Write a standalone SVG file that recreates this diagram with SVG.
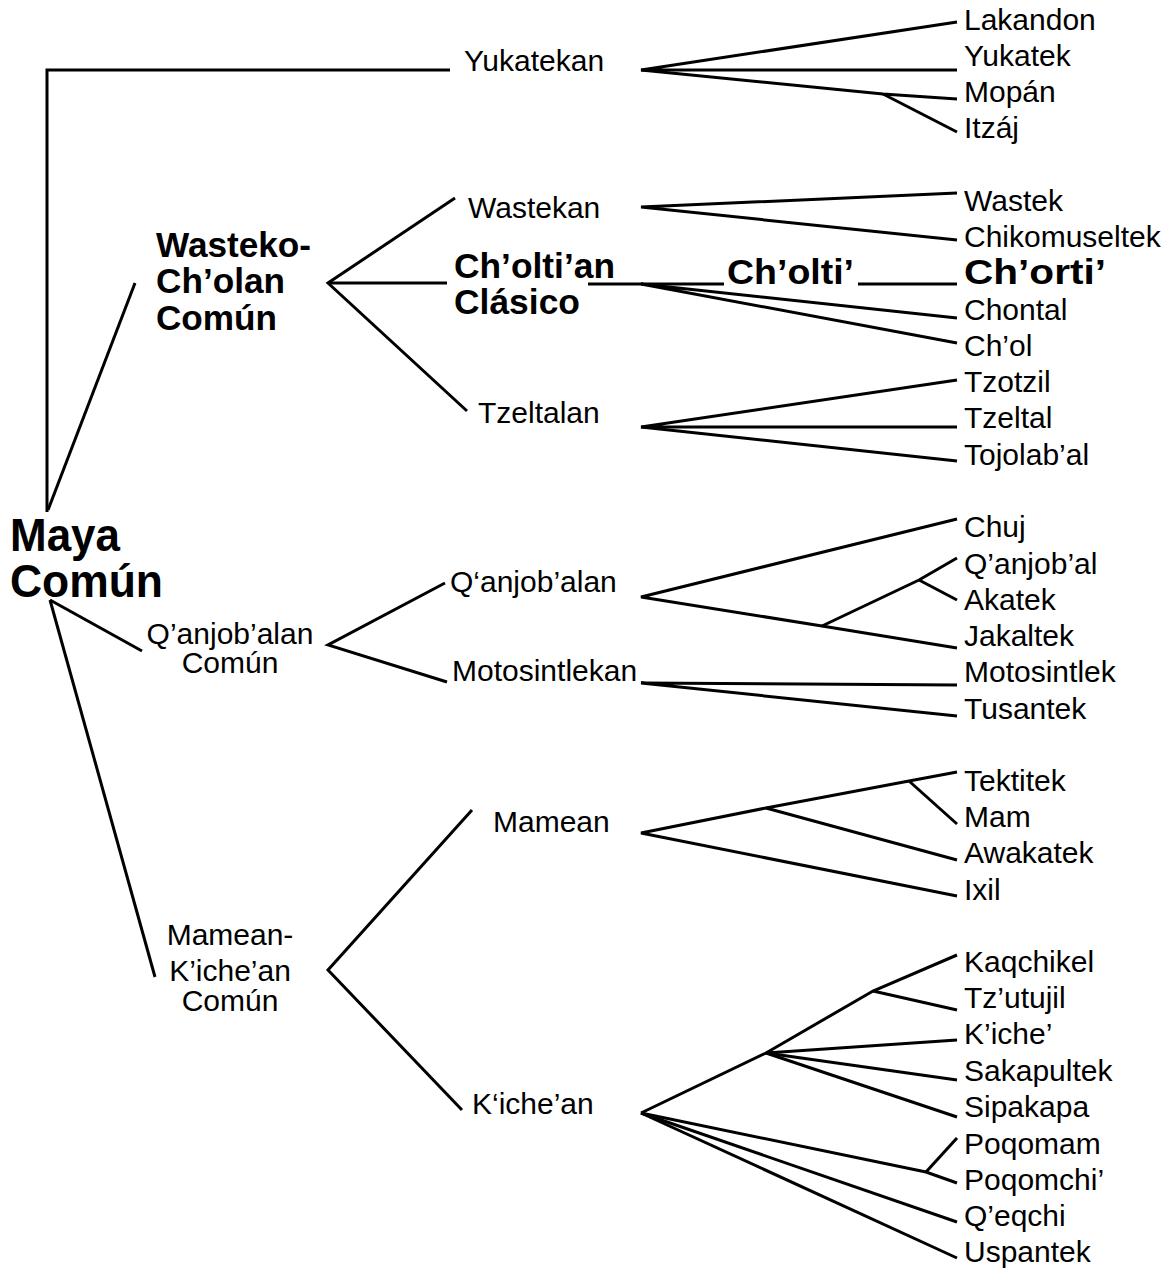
<svg xmlns="http://www.w3.org/2000/svg" width="1173" height="1270" viewBox="0 0 1173 1270">
<style>
text{font-family:"Liberation Sans",Arial,sans-serif;fill:#000}
.r{font-size:30px}
.b{font-size:35px;font-weight:bold}
.m{text-anchor:middle}
.big{font-size:46px;font-weight:bold}
#connectors path,#connectors line{stroke:#000;stroke-width:3;fill:none;stroke-linejoin:miter}
</style>
<rect width="1173" height="1270" fill="#fff"/>
<g id="connectors">
<path d="M450,70 H47 V512"/>
<line x1="48" y1="510" x2="135" y2="283"/>
<line x1="50" y1="600" x2="142" y2="651"/>
<line x1="50" y1="600" x2="155" y2="977"/>
<path d="M455,198 L328,283 L467,411"/>
<line x1="328" y1="283" x2="447" y2="283"/>
<path d="M445,583 L328,645 L447,682"/>
<path d="M472,810 L328,970 L462,1110"/>
<path d="M957,22 L641,70 L957,70"/>
<path d="M641,70 L883,94 L957,99"/>
<line x1="883" y1="94" x2="957" y2="132"/>
<path d="M957,193 L641,207 L957,240"/>
<line x1="588" y1="284" x2="724" y2="284"/>
<line x1="858" y1="284" x2="957" y2="284"/>
<path d="M957,318 L641,284 L957,343"/>
<path d="M957,380 L641,427 L957,427"/>
<line x1="641" y1="427" x2="957" y2="461"/>
<path d="M957,519 L641,597 L822,626 L957,648"/>
<path d="M822,626 L919,580 L957,558"/>
<line x1="919" y1="580" x2="957" y2="600"/>
<path d="M957,685 L641,683 L957,716"/>
<path d="M957,772 L909,781 L766,808 L641,833 L957,896"/>
<line x1="766" y1="808" x2="957" y2="860"/>
<line x1="909" y1="781" x2="957" y2="824"/>
<path d="M957,955 L873,991 L766,1053 L641,1113"/>
<line x1="873" y1="991" x2="957" y2="1010"/>
<line x1="766" y1="1053" x2="957" y2="1040"/>
<line x1="766" y1="1053" x2="957" y2="1080"/>
<line x1="766" y1="1053" x2="957" y2="1117"/>
<path d="M641,1113 L926,1172 L957,1183"/>
<line x1="926" y1="1172" x2="957" y2="1138"/>
<line x1="641" y1="1113" x2="957" y2="1222"/>
<line x1="641" y1="1113" x2="957" y2="1258"/>
</g>
<g id="maya-comun"><text class="big" x="10" y="551" textLength="110" lengthAdjust="spacingAndGlyphs">Maya</text><text class="big" x="10" y="597" textLength="153" lengthAdjust="spacingAndGlyphs">Común</text></g>
<g id="wasteko-cholan"><text class="b" x="156" y="257" textLength="155" lengthAdjust="spacingAndGlyphs">Wasteko-</text><text class="b" x="156" y="293" textLength="129" lengthAdjust="spacingAndGlyphs">Ch’olan</text><text class="b" x="156" y="330" textLength="121" lengthAdjust="spacingAndGlyphs">Común</text></g>
<g id="qanjobalan-comun"><text class="r m" x="230" y="644">Q’anjob’alan</text><text class="r m" x="230" y="673">Común</text></g>
<g id="mamean-kichean-comun"><text class="r m" x="230" y="945">Mamean-</text><text class="r m" x="230" y="981">K’iche’an</text><text class="r m" x="230" y="1011">Común</text></g>
<g id="yukatekan"><text class="r" x="464" y="71">Yukatekan</text></g>
<g id="wastekan"><text class="r" x="468" y="218">Wastekan</text></g>
<g id="cholti-an"><text class="b" x="454" y="278" textLength="161" lengthAdjust="spacingAndGlyphs">Ch’olti’an</text><text class="b" x="454" y="314" textLength="126" lengthAdjust="spacingAndGlyphs">Clásico</text></g>
<g id="cholti"><text class="b" x="727" y="284" textLength="127" lengthAdjust="spacingAndGlyphs">Ch’olti’</text></g>
<g id="tzeltalan"><text class="r" x="478" y="423">Tzeltalan</text></g>
<g id="qanjobalan"><text class="r" x="450" y="592">Q‘anjob’alan</text></g>
<g id="motosintlekan"><text class="r" x="452" y="681">Motosintlekan</text></g>
<g id="mamean"><text class="r" x="493" y="832">Mamean</text></g>
<g id="kichean"><text class="r" x="472" y="1114">K‘iche’an</text></g>
<g id="leaves">
<g id="lakandon"><text class="r" x="964" y="30">Lakandon</text></g>
<g id="yukatek"><text class="r" x="964" y="66">Yukatek</text></g>
<g id="mopan"><text class="r" x="964" y="102">Mopán</text></g>
<g id="itzaj"><text class="r" x="964" y="138">Itzáj</text></g>
<g id="wastek"><text class="r" x="964" y="211">Wastek</text></g>
<g id="chikomuseltek"><text class="r" x="964" y="247">Chikomuseltek</text></g>
<g id="chorti"><text class="b" x="964" y="284" textLength="142" lengthAdjust="spacingAndGlyphs">Ch’orti’</text></g>
<g id="chontal"><text class="r" x="964" y="320">Chontal</text></g>
<g id="chol"><text class="r" x="964" y="356">Ch’ol</text></g>
<g id="tzotzil"><text class="r" x="964" y="392">Tzotzil</text></g>
<g id="tzeltal"><text class="r" x="964" y="428">Tzeltal</text></g>
<g id="tojolabal"><text class="r" x="964" y="465">Tojolab’al</text></g>
<g id="chuj"><text class="r" x="964" y="537">Chuj</text></g>
<g id="qanjobal"><text class="r" x="964" y="574">Q’anjob’al</text></g>
<g id="akatek"><text class="r" x="964" y="610">Akatek</text></g>
<g id="jakaltek"><text class="r" x="964" y="646">Jakaltek</text></g>
<g id="motosintlek"><text class="r" x="964" y="682">Motosintlek</text></g>
<g id="tusantek"><text class="r" x="964" y="719">Tusantek</text></g>
<g id="tektitek"><text class="r" x="964" y="791">Tektitek</text></g>
<g id="mam"><text class="r" x="964" y="827">Mam</text></g>
<g id="awakatek"><text class="r" x="964" y="863">Awakatek</text></g>
<g id="ixil"><text class="r" x="964" y="900">Ixil</text></g>
<g id="kaqchikel"><text class="r" x="964" y="972">Kaqchikel</text></g>
<g id="tzutujil"><text class="r" x="964" y="1008">Tz’utujil</text></g>
<g id="kiche"><text class="r" x="964" y="1044">K’iche’</text></g>
<g id="sakapultek"><text class="r" x="964" y="1081">Sakapultek</text></g>
<g id="sipakapa"><text class="r" x="964" y="1117">Sipakapa</text></g>
<g id="poqomam"><text class="r" x="964" y="1154">Poqomam</text></g>
<g id="poqomchi"><text class="r" x="964" y="1190">Poqomchi’</text></g>
<g id="qeqchi"><text class="r" x="964" y="1226">Q’eqchi</text></g>
<g id="uspantek"><text class="r" x="964" y="1262">Uspantek</text></g>
</g>
</svg>
